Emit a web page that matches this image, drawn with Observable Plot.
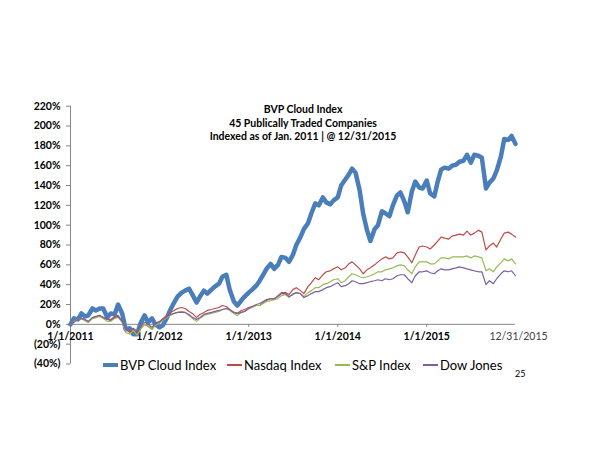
<!DOCTYPE html>
<html>
<head>
<meta charset="utf-8">
<script src="https://cdn.jsdelivr.net/npm/d3@7"></script>
<script src="https://cdn.jsdelivr.net/npm/@observablehq/plot@0.6"></script>
<style>
  html, body { margin: 0; padding: 0; background: #fff; }
  body { width: 600px; height: 463px; position: relative; overflow: hidden; font-family: Lato, "Open Sans", sans-serif; }
  #chart { position: absolute; left: 0; top: 0; }
  .title { position: absolute; left: 203px; width: 200px; text-align: center; font-weight: bold; font-size: 10.5px; color: #000; white-space: nowrap; }
  .leg { position: absolute; top: 356px; height: 18px; display: flex; align-items: center; font-size: 13px; color: #000; white-space: nowrap; }
  .leg span.sw { display: inline-block; width: 15px; margin-right: 2px; }
  .pg { position: absolute; left: 515px; top: 368px; font-size: 9px; color: #000; }
</style>
</head>
<body>
<div id="chart"></div>
<div class="title" style="top:103px">BVP Cloud Index</div>
<div class="title" style="top:116.5px">45 Publically Traded Companies</div>
<div class="title" style="top:130px">Indexed as of Jan. 2011 | @ 12/31/2015</div>
<div id="legend"></div>
<div class="pg">25</div>
<script>
// ---- Data (percent change since Jan. 2011), semi-monthly readings (1st & 15th of each month) + 12/31/2015 ----
const seriesNames = ["BVP Cloud Index", "Nasdaq Index", "S&P Index", "Dow Jones"];
const seriesColors = ["#4A7EBB", "#BE4B48", "#98B954", "#7D60A0"];

const bvp = [
  0, 6, 5, 11, 8, 9, 16, 14, 16, 16, 7, 11, 10, 20, 11, -5, -4, -10, -10, 1, 9, 2, 6, 0,
  -3, -1, 7, 15, 22, 28, 32, 34, 36, 30, 22, 28, 34, 31, 35, 38, 41, 48, 50, 35, 23, 19, 24, 28,
  32, 35, 39, 44, 50, 56, 61, 56, 60, 68, 67, 63, 70, 80, 88, 96, 102, 112, 122, 120, 128, 123, 121, 125,
  128, 140, 146, 151, 157, 153, 135, 112, 95, 84, 96, 100, 114, 112, 109, 120, 130, 133, 124, 113, 134, 144, 138, 137,
  145, 132, 129, 144, 156, 158, 157, 160, 161, 164, 165, 171, 163, 171, 170, 168, 137, 143, 147, 155, 169, 187, 186, 190,
  182
];
const nasdaq = [
  0, 3, 5, 6, 4, 2, 6, 7, 9, 7, 5, 5, 8, 9, 3, -5, -8, -5, -9, -4, 0, -2, -5, 0,
  2, 6, 9, 12, 14, 16, 17, 16, 13, 11, 7, 10, 12, 14, 15, 16, 17, 19, 18, 15, 12, 11, 14, 15,
  17, 18, 19, 19, 22, 24, 26, 25, 29, 32, 32, 30, 35, 37, 34, 31, 38, 42, 47, 45, 50, 53, 54, 56,
  58, 55, 57, 61, 63, 60, 56, 51, 55, 57, 60, 63, 66, 68, 66, 67, 72, 73, 72, 68, 62, 70, 78, 79,
  78, 76, 80, 84, 88, 87, 86, 89, 90, 91, 90, 94, 90, 92, 95, 93, 75, 79, 82, 78, 86, 92, 93, 91,
  88
];
const sp = [
  0, 3, 5, 6, 4, 2, 6, 7, 8, 6, 3, 3, 6, 7, 2, -8, -10, -6, -11, -5, 0, -2, -5, -1,
  1, 4, 7, 9, 11, 12, 13, 12, 9, 6, 3, 6, 9, 10, 11, 12, 13, 15, 16, 14, 11, 9, 12, 13,
  16, 17, 19, 19, 21, 23, 24, 25, 26, 29, 30, 27, 31, 32, 31, 28, 32, 34, 37, 37, 40, 41, 43, 45,
  46, 42, 44, 48, 51, 50, 48, 47, 48, 49, 51, 53, 53, 55, 56, 57, 59, 60, 59, 55, 51, 58, 63, 63,
  63, 61, 61, 64, 67, 67, 66, 68, 68, 68, 68, 69, 67, 69, 68, 67, 54, 56, 53, 58, 62, 66, 64, 66,
  61
];
const dow = [
  0, 2, 5, 6, 5, 3, 7, 8, 9, 7, 5, 4, 7, 8, 3, -5, -6, -4, -7, -1, 2, 0, -3, 1,
  3, 5, 8, 10, 11, 12, 12, 12, 10, 7, 5, 7, 10, 11, 12, 13, 14, 15, 16, 15, 12, 11, 12, 13,
  16, 18, 20, 21, 23, 25, 26, 26, 28, 31, 31, 28, 30, 32, 31, 27, 29, 31, 33, 33, 35, 37, 38, 40,
  42, 38, 39, 41, 44, 43, 41, 41, 42, 43, 44, 45, 44, 46, 45, 46, 49, 50, 50, 46, 42, 49, 53, 53,
  54, 52, 51, 54, 56, 55, 55, 56, 57, 58, 57, 56, 55, 54, 53, 53, 40, 44, 41, 46, 51, 54, 53, 54,
  49
];

// date categories: 1st and 15th of each month Jan 2011 - Dec 2015, then 12/31/2015
const dates = [];
for (let m = 0; m < 60; m++) {
  dates.push(new Date(Date.UTC(2011 + Math.floor(m / 12), m % 12, 1)));
  dates.push(new Date(Date.UTC(2011 + Math.floor(m / 12), m % 12, 15)));
}
dates.push(new Date(Date.UTC(2015, 11, 31)));

const yTicks = [-40, -20, 0, 20, 40, 60, 80, 100, 120, 140, 160, 180, 200, 220];
const xTickDates = [new Date(Date.UTC(2011,0,1)), new Date(Date.UTC(2012,0,1)), new Date(Date.UTC(2013,0,1)), new Date(Date.UTC(2014,0,1)), new Date(Date.UTC(2015,0,1))];
const xTickLabels = ["1/1/2011", "1/1/2012", "1/1/2013", "1/1/2014", "1/1/2015"];
const xEndDate = new Date(Date.UTC(2015, 11, 31));
const xEndLabel = "12/31/2015";

// build table
const allSeries = [bvp, nasdaq, sp, dow];
const rows = [];
allSeries.forEach((vals, s) => vals.forEach((v, i) => rows.push({series: seriesNames[s], date: dates[i], value: v})));

const pctFmt = d => d < 0 ? `(${-d}%)` : `${d}%`;
const axisGray = "#868686";

const chart = Plot.plot({
  width: 600,
  height: 463,
  marginLeft: 70,
  marginRight: 85,
  marginTop: 105.7,
  marginBottom: 99.5,
  style: {fontFamily: "Lato, 'Open Sans', sans-serif", fontSize: "10px", background: "white"},
  x: {type: "utc", domain: [xTickDates[0], xEndDate], axis: null},
  y: {domain: [-40, 220], axis: null},
  color: {domain: seriesNames, range: seriesColors},
  marks: [
    // y axis line and ticks
    Plot.ruleX([xTickDates[0]], {stroke: axisGray, strokeWidth: 1}),
    Plot.axisY({ticks: yTicks, tickFormat: pctFmt, tickSize: 4, tickPadding: 6, stroke: axisGray, fill: "black", fontWeight: "bold", fontSize: 10.5, label: null}),
    // x axis at 0%
    Plot.ruleY([0], {stroke: axisGray, strokeWidth: 1}),
    Plot.ruleX(xTickDates.slice(1), {y1: 0, y2: -3, stroke: axisGray}),
    Plot.text(xTickDates, {x: d => d, y: 0, text: (d, i) => xTickLabels[i], dy: 12, fontWeight: "bold", fontSize: 10.5, fill: "black"}),
    Plot.text([xEndDate], {x: d => d, y: 0, text: () => xEndLabel, dy: 12, dx: 3, fontSize: 10.5, fill: "#404040"}),
    // series lines (BVP first, thin lines on top)
    Plot.line(rows.filter(r => r.series === seriesNames[0]), {x: "date", y: "value", stroke: "series", strokeWidth: 4.5, strokeLinejoin: "round", strokeLinecap: "round"}),
    Plot.line(rows.filter(r => r.series !== seriesNames[0]), {x: "date", y: "value", z: "series", stroke: "series", strokeWidth: 1.2, strokeLinejoin: "round"})
  ]
});
document.getElementById("chart").appendChild(chart);

// legend
const legendX = [103, 227, 335, 423];
const legend = document.getElementById("legend");
seriesNames.forEach((name, i) => {
  const item = document.createElement("div");
  item.className = "leg";
  item.style.left = legendX[i] + "px";
  const sw = document.createElement("span");
  sw.className = "sw";
  sw.style.height = (i === 0 ? 4.5 : 1.2) + "px";
  sw.style.background = seriesColors[i];
  item.appendChild(sw);
  item.appendChild(document.createTextNode(name));
  legend.appendChild(item);
});
</script>
</body>
</html>
